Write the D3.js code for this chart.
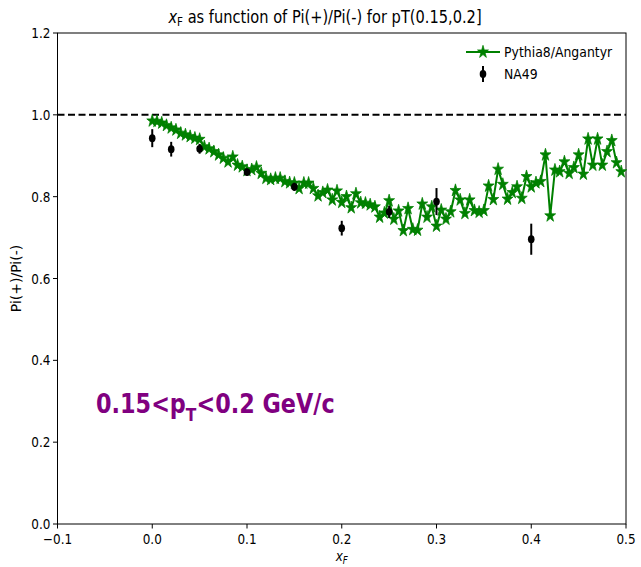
<!DOCTYPE html>
<html>
<head>
<meta charset="utf-8">
<script src="https://cdn.jsdelivr.net/npm/d3@7"></script>
<style>
  body { margin: 0; background: #fff; }
  svg { font-family: "DejaVu Sans", sans-serif; }
</style>
</head>
<body>
<div id="chart"></div>
<script>
// ---- data ----
const simX = [0.000,0.005,0.010,0.015,0.020,0.025,0.030,0.035,0.040,0.045,
              0.050,0.055,0.060,0.065,0.070,0.075,0.080,0.085,0.090,0.095,
              0.100,0.105,0.110,0.115,0.120,0.125,0.130,0.135,0.140,0.145,
              0.150,0.155,0.160,0.165,0.170,0.175,0.180,0.185,0.190,0.195,
              0.200,0.205,0.210,0.215,0.220,0.225,0.230,0.235,0.240,0.245,
              0.250,0.255,0.260,0.265,0.270,0.275,0.280,0.285,0.290,0.295,
              0.300,0.305,0.310,0.315,0.320,0.325,0.330,0.335,0.340,0.345,
              0.350,0.355,0.360,0.365,0.370,0.375,0.380,0.385,0.390,0.395,
              0.400,0.405,0.410,0.415,0.420,0.425,0.430,0.435,0.440,0.445,
              0.450,0.455,0.460,0.465,0.470,0.475,0.480,0.485,0.490,0.495];
const simY = [0.985,0.984,0.980,0.974,0.968,0.963,0.955,0.951,0.947,0.943,
              0.940,0.922,0.917,0.910,0.902,0.894,0.885,0.897,0.877,0.873,
              0.864,0.866,0.872,0.857,0.845,0.842,0.845,0.845,0.837,0.834,
              0.833,0.820,0.833,0.833,0.820,0.802,0.810,0.816,0.792,0.814,
              0.786,0.800,0.773,0.807,0.785,0.784,0.780,0.775,0.750,0.760,
              0.790,0.745,0.765,0.717,0.771,0.720,0.718,0.782,0.750,0.775,
              0.728,0.767,0.745,0.763,0.815,0.792,0.759,0.792,0.766,0.762,
              0.766,0.826,0.793,0.867,0.830,0.794,0.810,0.824,0.796,0.849,
              0.824,0.834,0.837,0.902,0.753,0.865,0.861,0.885,0.857,0.871,
              0.902,0.855,0.941,0.877,0.941,0.877,0.910,0.937,0.883,0.861];
const na49X   = [0.00, 0.02, 0.05, 0.10, 0.15, 0.20, 0.25, 0.30, 0.40];
const na49Y   = [0.943,0.916,0.917,0.860,0.824,0.723,0.763,0.788,0.696];
const na49Err = [0.022,0.018,0.012,0.008,0.010,0.018,0.015,0.033,0.038];
const xTicks = [-0.1, 0.0, 0.1, 0.2, 0.3, 0.4, 0.5];
const yTicks = [0.0, 0.2, 0.4, 0.6, 0.8, 1.0, 1.2];
const seriesNames = ["Pythia8/Angantyr", "NA49"];

// ---- layout ----
const W = 641, H = 567;
const L = 57.5, R = 626, T = 33, B = 524;
const SX = 0.86; // horizontal squash of glyphs seen in the reference
const green = "#008000";

const svg = d3.select("#chart").append("svg").attr("width", W).attr("height", H);

const x = d3.scaleLinear().domain([-0.1, 0.5]).range([L, R]);
const y = d3.scaleLinear().domain([0, 1.2]).range([B, T]);

function sText(g, px, py, anchor, size) {
  return g.append("text")
    .attr("transform", `translate(${px},${py}) scale(${SX},1)`)
    .attr("text-anchor", anchor).attr("font-size", size).attr("fill", "#000");
}

// ticks
const fmt = d => (d < 0 ? "\u2212" : "") + Math.abs(d).toFixed(1);
const ax = svg.append("g");
xTicks.forEach(t => {
  ax.append("line").attr("x1", x(t)).attr("x2", x(t)).attr("y1", B).attr("y2", B + 4.5)
    .attr("stroke", "#000");
  sText(ax, x(t), B + 20, "middle", 14).text(fmt(t));
});
yTicks.forEach(t => {
  ax.append("line").attr("x1", L - 4.5).attr("x2", L).attr("y1", y(t)).attr("y2", y(t))
    .attr("stroke", "#000");
  sText(ax, L - 7, y(t) + 5, "end", 14).text(t.toFixed(1));
});
svg.append("rect").attr("x", L).attr("y", T).attr("width", R - L).attr("height", B - T)
  .attr("fill", "none").attr("stroke", "#000").attr("stroke-width", 1);

// dashed line at 1.0
svg.append("line").attr("x1", L).attr("x2", R).attr("y1", y(1.0)).attr("y2", y(1.0))
  .attr("stroke", "#000").attr("stroke-width", 2).attr("stroke-dasharray", "7,3.5");

// simulation line
const simData = simX.map((d, i) => ({x: d, y: simY[i]}));
svg.append("path").datum(simData)
  .attr("d", d3.line().x(d => x(d.x)).y(d => y(d.y)))
  .attr("fill", "none").attr("stroke", green).attr("stroke-width", 2);
const star = d3.symbol().type(d3.symbolStar).size(50);
svg.append("g").selectAll("path").data(simData).join("path")
  .attr("transform", d => `translate(${x(d.x)},${y(d.y)}) scale(${SX},1)`)
  .attr("d", star).attr("fill", green).attr("stroke", green).attr("stroke-width", 0.8);

// NA49
const naData = na49X.map((d, i) => ({x: d, y: na49Y[i], e: na49Err[i]}));
const ng = svg.append("g");
ng.selectAll("line").data(naData).join("line")
  .attr("x1", d => x(d.x)).attr("x2", d => x(d.x))
  .attr("y1", d => y(d.y - d.e)).attr("y2", d => y(d.y + d.e))
  .attr("stroke", "#000").attr("stroke-width", 2);
ng.selectAll("ellipse").data(naData).join("ellipse")
  .attr("cx", d => x(d.x)).attr("cy", d => y(d.y)).attr("rx", 3.3).attr("ry", 3.9).attr("fill", "#000");

// title
const title = sText(svg, 325, 23, "middle", 17);
title.append("tspan").attr("font-style", "italic").text("x");
title.append("tspan").attr("font-size", 12).attr("dy", 3).text("F");
title.append("tspan").attr("dy", -3).text(" as function of Pi(+)/Pi(-) for pT(0.15,0.2]");

// axis labels
const xl = sText(svg, (L + R) / 2, 561, "middle", 14);
xl.append("tspan").attr("font-style", "italic").text("x");
xl.append("tspan").attr("font-size", 10).attr("dy", 3).attr("font-style", "italic").text("F");
svg.append("text").attr("transform", `translate(21,${(T + B) / 2}) rotate(-90)`)
  .attr("text-anchor", "middle").attr("font-size", 14).attr("fill", "#000").text("Pi(+)/Pi(-)");

// annotation
const ann = svg.append("text").attr("transform", `translate(96,413) scale(${SX},1)`)
  .attr("font-size", 26).attr("font-weight", "bold").attr("fill", "#800080");
ann.append("tspan").text("0.15<p");
ann.append("tspan").attr("font-size", 18).attr("dy", 8).text("T");
ann.append("tspan").attr("dy", -8).text("<0.2 GeV/c");

// legend
const lg = svg.append("g");
lg.append("line").attr("x1", 466).attr("x2", 500).attr("y1", 52).attr("y2", 52)
  .attr("stroke", green).attr("stroke-width", 2);
lg.append("path").attr("transform", `translate(483,52) scale(${SX},1)`).attr("d", star)
  .attr("fill", green).attr("stroke", green).attr("stroke-width", 0.8);
lg.append("line").attr("x1", 483).attr("x2", 483).attr("y1", 66).attr("y2", 82)
  .attr("stroke", "#000").attr("stroke-width", 2);
lg.append("ellipse").attr("cx", 483).attr("cy", 74).attr("rx", 3.3).attr("ry", 3.9).attr("fill", "#000");
seriesNames.forEach((d, i) => sText(lg, 504, 57 + i * 22, "start", 14.5).text(d));
</script>
</body>
</html>
